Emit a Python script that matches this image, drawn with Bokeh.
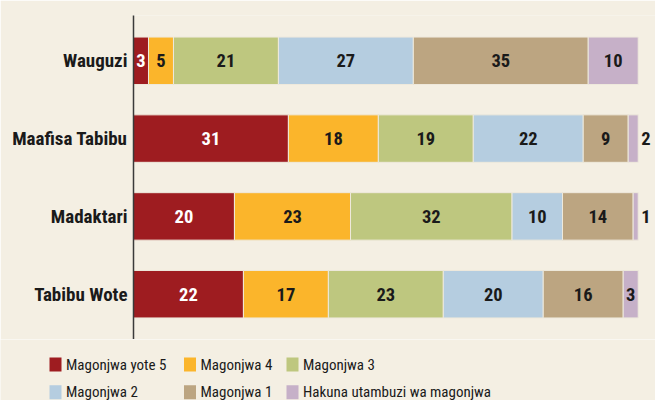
from bokeh.plotting import figure
from bokeh.models import ColumnDataSource, FactorRange, Range1d
from bokeh.core.properties import value
from bokeh.embed import file_html
from bokeh.resources import INLINE

# ---- data ----
groups = ["Wauguzi", "Maafisa Tabibu", "Madaktari", "Tabibu Wote"]
series_names = ["Magonjwa yote 5", "Magonjwa 4", "Magonjwa 3",
                "Magonjwa 2", "Magonjwa 1", "Hakuna utambuzi wa magonjwa"]
yote5 = [3, 31, 20, 22]
magonjwa4 = [5, 18, 23, 17]
magonjwa3 = [21, 19, 32, 23]
magonjwa2 = [27, 22, 10, 20]
magonjwa1 = [35, 9, 14, 16]
hakuna = [10, 2, 1, 3]

colors = ["#9e1c20", "#fbb52b", "#bec77f", "#b5cde0", "#bca581", "#c6b0c8"]
label_colors = ["#ffffff", "#1a1a1a", "#1a1a1a", "#1a1a1a", "#1a1a1a", "#1a1a1a"]

BG = "#f4efe3"
FONT = "Roboto Condensed, Lato, sans-serif"

series = [yote5, magonjwa4, magonjwa3, magonjwa2, magonjwa1, hakuna]
totals = [sum(s[i] for s in series) for i in range(len(groups))]

p = figure(width=655, height=339, output_backend="svg", toolbar_location=None,
           y_range=FactorRange(factors=groups[::-1], range_padding=0.082,
                               range_padding_units="absolute"),
           x_range=Range1d(0, 103.43),
           min_border_left=133, min_border_right=0, min_border_top=15,
           min_border_bottom=0)
p.background_fill_color = BG
p.border_fill_color = BG
p.outline_line_color = None
p.grid.visible = False
p.xaxis.visible = False

lefts = [0.0] * len(groups)
in_x, in_y, in_t, in_c = [], [], [], []
out_x, out_y, out_t = [], [], []
for k, vals in enumerate(series):
    left = []
    right = []
    for i, v in enumerate(vals):
        w = v / totals[i] * 100.0
        left.append(lefts[i])
        right.append(lefts[i] + w)
        if v <= 2 and k == len(series) - 1:
            out_x.append(lefts[i] + w)
            out_y.append(groups[i])
            out_t.append(str(v))
        else:
            in_x.append(lefts[i] + w / 2)
            in_y.append(groups[i])
            in_t.append(str(v))
            in_c.append(label_colors[k])
        lefts[i] += w
    src = ColumnDataSource(dict(y=groups, left=left, right=right))
    p.hbar(y="y", left="left", right="right", height=0.61, source=src,
           fill_color=colors[k], line_color="#eee9dc", line_width=1)

p.text(x=in_x, y=in_y, text=in_t, text_color=in_c,
       text_font=value(FONT), text_font_style="bold", text_font_size="18.5px",
       text_align="center", text_baseline="middle")
p.text(x=out_x, y=out_y, text=out_t, text_color="#1a1a1a", x_offset=3,
       text_font=value(FONT), text_font_style="bold", text_font_size="18.5px",
       text_align="left", text_baseline="middle")

ax = p.yaxis[0]
ax.major_tick_line_color = None
ax.minor_tick_line_color = None
ax.major_tick_out = 0
ax.major_tick_in = 0
ax.axis_line_color = "#3a3a3a"
ax.axis_line_width = 1.5
ax.major_label_text_font = FONT
ax.major_label_text_font_style = "bold"
ax.major_label_text_font_size = "19px"
ax.major_label_text_color = "#1a1a1a"
ax.major_label_standoff = 6

# ---- legend panel (pixel coordinates of the panel) ----
LW, LH = 655, 61
col_x = [49, 183.5, 286]
row_y = [25, 52.8]
sw_x, sw_y, tx_x, tx_y = [], [], [], []
for k in range(len(series_names)):
    c, r = k % 3, k // 3
    sw_x.append(col_x[c] + 6)
    sw_y.append(row_y[r])
    tx_x.append(col_x[c] + 16.5)
    tx_y.append(row_y[r])

lg = figure(width=LW, height=LH, output_backend="svg", toolbar_location=None,
            x_range=Range1d(0, LW), y_range=Range1d(LH, 0),
            min_border_left=0, min_border_right=0, min_border_top=0,
            min_border_bottom=0)
lg.axis.visible = False
lg.grid.visible = False
lg.outline_line_color = None
lg.background_fill_color = BG
lg.border_fill_color = BG
lg.rect(x=sw_x, y=sw_y, width=12, height=14, fill_color=colors, line_color=None)
lg.text(x=tx_x, y=tx_y, text=series_names, text_color="#1a1a1a",
        text_font=value(FONT), text_font_size="15px",
        text_align="left", text_baseline="middle")

html = file_html([p, lg], INLINE)
html = html.replace("<body>", '<body style="background:%s;">' % BG, 1)
open("out.html", "w").write(html)
